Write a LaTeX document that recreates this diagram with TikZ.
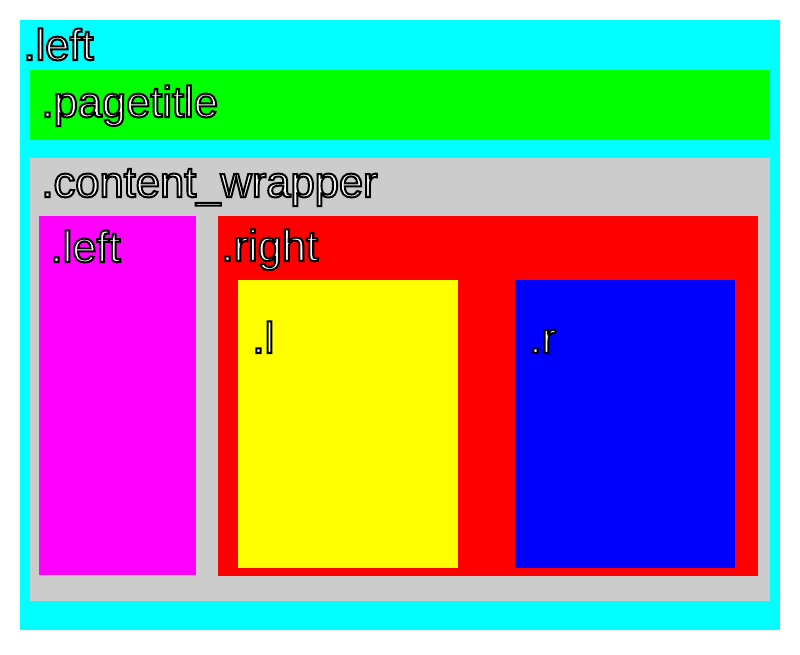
\documentclass[tikz,border=0pt]{standalone}
\usepackage{fontspec}
\setmainfont{Liberation Sans}
\definecolor{cCyan}{HTML}{00FFFF}
\definecolor{cGreen}{HTML}{00FF00}
\definecolor{cGray}{HTML}{CCCCCC}
\definecolor{cMagenta}{HTML}{FF00FF}
\definecolor{cRed}{HTML}{FF0000}
\definecolor{cYellow}{HTML}{FFFF00}
\definecolor{cBlue}{HTML}{0000FF}
\newcommand{\lbltext}[1]{\textcolor{white}{\special{pdf:literal direct 2 Tr 2 w 0 0 0 RG}#1\special{pdf:literal direct 0 Tr}}}
\begin{document}
\begin{tikzpicture}[x=1pt,y=-1pt,
  box/.style={rectangle, inner sep=0pt, outer sep=0pt, anchor=north west, draw=none},
  lbl/.style={anchor=base west, inner sep=0pt, outer sep=0pt, font=\fontsize{43.5}{50}\selectfont}]
\useasboundingbox[fill=white] (0,0) rectangle (800,655);
% boxes
\node[box, fill=cCyan, minimum width=760pt, minimum height=610pt] (outer) at (20,20) {};
\node[box, fill=cGreen, minimum width=740pt, minimum height=70pt] (title) at (30,70) {};
\node[box, fill=cGray, minimum width=740pt, minimum height=443pt] (wrap) at (30,158) {};
\node[box, fill=cMagenta, minimum width=157pt, minimum height=359pt] (lft) at (39,216) {};
\node[box, fill=cRed, minimum width=540pt, minimum height=360pt] (rgt) at (218,216) {};
\node[box, fill=cYellow, minimum width=220pt, minimum height=288pt] (ll) at (238,280) {};
\node[box, fill=cBlue, minimum width=220pt, minimum height=288pt] (rr) at (515,280) {};
% labels
\node[lbl] (tOuter) at (23.5,60) {\lbltext{.left}};
\node[lbl] (tTitle) at (41.5,117) {\lbltext{.pagetitle}};
\node[lbl] (tWrap) at (41.5,197) {\lbltext{.content\_wrapper}};
\node[lbl] (tLft) at (50.5,262) {\lbltext{.left}};
\node[lbl] (tRgt) at (221.5,261) {\lbltext{.right}};
\node[lbl] (tL) at (252.5,353) {\lbltext{.l}};
\node[lbl] (tR) at (529.5,353) {\lbltext{.r}};
\end{tikzpicture}
\end{document}
